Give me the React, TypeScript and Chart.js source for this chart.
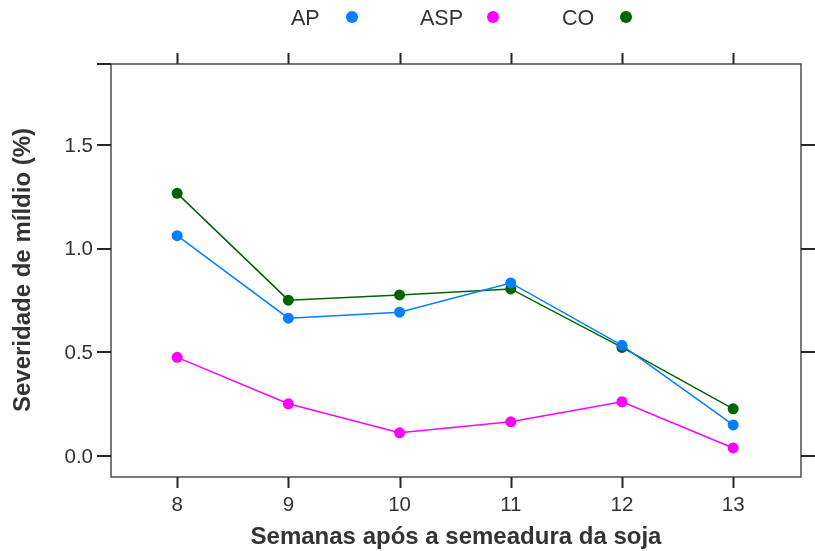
import React, { useEffect, useRef } from "react";
import { Chart, registerables } from "chart.js";

Chart.register(...registerables);

const weeks = [8, 9, 10, 11, 12, 13];
const apValues = [1.063, 0.665, 0.694, 0.835, 0.534, 0.15];
const aspValues = [0.476, 0.252, 0.112, 0.165, 0.262, 0.039];
const coValues = [1.267, 0.752, 0.777, 0.806, 0.524, 0.228];
const yTicks = [0, 0.5, 1.0, 1.5];
const xTicks = [8, 9, 10, 11, 12, 13];
const seriesNames = ["AP", "ASP", "CO"];
const seriesColors = ["#0080FF", "#FF00FF", "#006400"];
const xTitle = "Semanas após a semeadura da soja";
const yTitle = "Severidade de míldio (%)";

const FONT = "'Liberation Sans', Arial, Helvetica, sans-serif";

const decorPlugin = {
  id: "latticeDecor",
  afterDraw(chart: any) {
    const ctx = chart.ctx;
    const { left, right, top, bottom } = chart.chartArea;
    const xs = chart.scales.x;
    const ys = chart.scales.y;
    ctx.save();
    // box
    ctx.strokeStyle = "#4d4d4d";
    ctx.lineWidth = 1.5;
    ctx.strokeRect(left, top, right - left, bottom - top);
    // ticks
    ctx.strokeStyle = "#262626";
    ctx.lineWidth = 2;
    ctx.beginPath();
    xTicks.forEach((t) => {
      const px = Math.round(xs.getPixelForValue(t)) + 0.5;
      ctx.moveTo(px, bottom);
      ctx.lineTo(px, bottom + 11);
      ctx.moveTo(px, top);
      ctx.lineTo(px, top - 11);
    });
    yTicks.forEach((t) => {
      const py = Math.round(ys.getPixelForValue(t));
      ctx.moveTo(left, py);
      ctx.lineTo(left - 14, py);
      ctx.moveTo(right, py);
      ctx.lineTo(right + 14, py);
    });
    ctx.moveTo(left, top);
    ctx.lineTo(left - 14, top);
    ctx.stroke();
    // tick labels
    ctx.fillStyle = "#333333";
    ctx.font = `20.5px ${FONT}`;
    ctx.textAlign = "center";
    ctx.textBaseline = "middle";
    xTicks.forEach((t) => {
      ctx.fillText(String(t), xs.getPixelForValue(t), bottom + 28);
    });
    ctx.textAlign = "right";
    yTicks.forEach((t) => {
      ctx.fillText(t.toFixed(1), left - 18, ys.getPixelForValue(t) + 1);
    });
    // titles
    ctx.font = `bold 24px ${FONT}`;
    ctx.textAlign = "center";
    ctx.fillText(xTitle, (left + right) / 2, 537);
    ctx.save();
    ctx.translate(23, 270);
    ctx.rotate(-Math.PI / 2);
    ctx.fillText(yTitle, 0, 0);
    ctx.restore();
    // legend
    const legX = [291, 420, 562];
    const dotX = [352, 493, 626];
    ctx.font = `21.5px ${FONT}`;
    ctx.textAlign = "left";
    seriesNames.forEach((n, i) => {
      ctx.fillStyle = "#333333";
      ctx.fillText(n, legX[i], 19);
      ctx.fillStyle = seriesColors[i];
      ctx.beginPath();
      ctx.arc(dotX[i], 17, 6, 0, Math.PI * 2);
      ctx.fill();
    });
    ctx.restore();
  },
};

export default function App() {
  const ref = useRef<HTMLCanvasElement | null>(null);
  useEffect(() => {
    if (!ref.current) return;
    const mk = (vals: number[], i: number) => ({
      label: seriesNames[i],
      data: weeks.map((w, k) => ({ x: w, y: vals[k] })),
      borderColor: seriesColors[i],
      backgroundColor: seriesColors[i],
      pointBackgroundColor: seriesColors[i],
      pointBorderWidth: 0,
      pointRadius: 5.5,
      borderWidth: 1.5,
      tension: 0,
    });
    const chart = new Chart(ref.current, {
      type: "line",
      data: {
        datasets: [mk(apValues, 0), mk(aspValues, 1), mk(coValues, 2)],
      },
      options: {
        animation: false,
        responsive: false,
        maintainAspectRatio: false,
        layout: { padding: { left: 111, top: 64, right: 14, bottom: 74 } },
        plugins: { legend: { display: false }, tooltip: { enabled: false } },
        scales: {
          x: { type: "linear", display: false, min: 7.405, max: 13.61 },
          y: { type: "linear", display: false, min: -0.101, max: 1.891 },
        },
      },
      plugins: [decorPlugin],
    });
    return () => chart.destroy();
  }, []);
  return (
    <div style={{ position: "absolute", left: 0, top: 0, width: 815, height: 551, background: "#fff" }}>
      <canvas ref={ref} width={815} height={551} style={{ width: 815, height: 551 }} />
    </div>
  );
}
